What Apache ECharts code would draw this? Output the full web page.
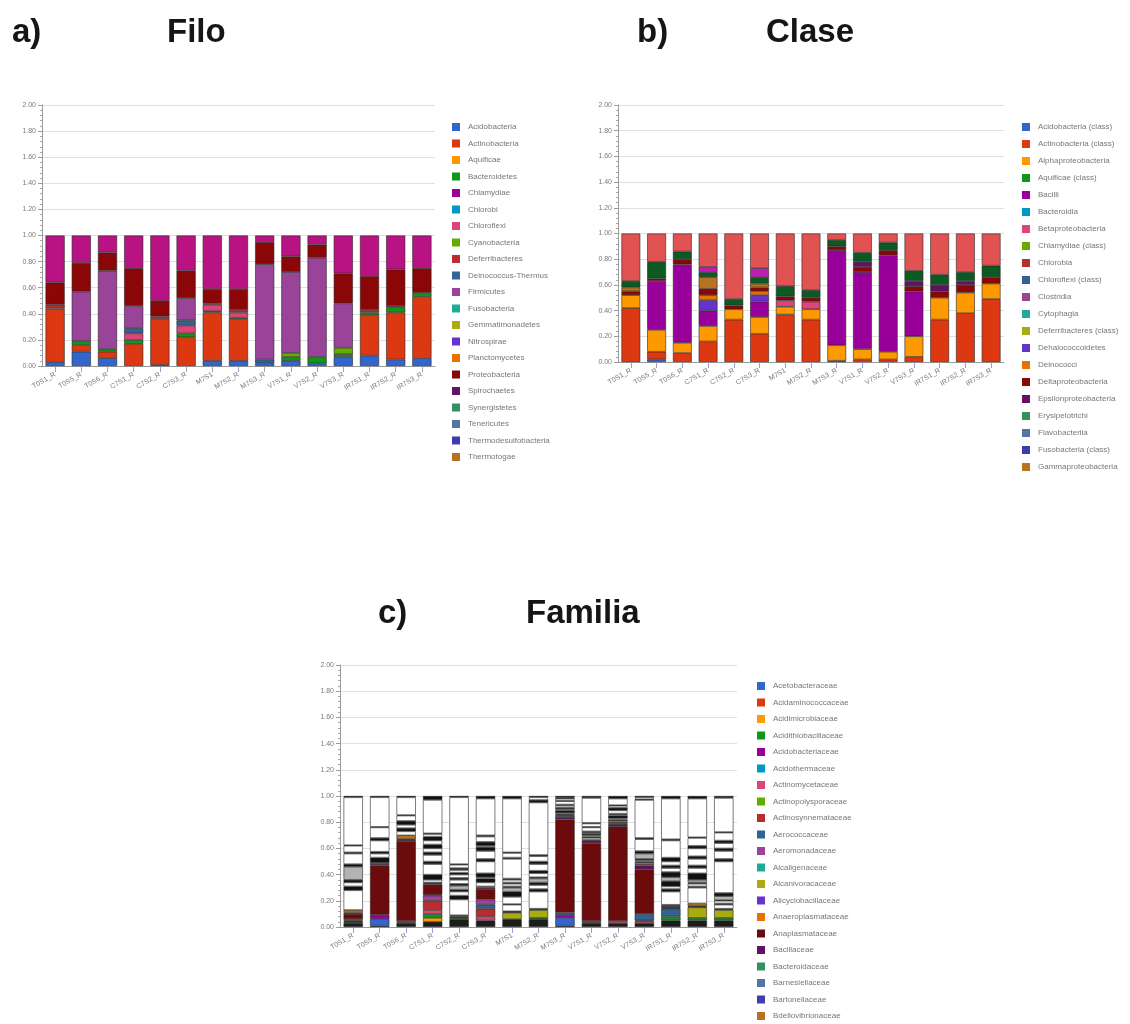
<!DOCTYPE html>
<html>
<head>
<meta charset="utf-8">
<script src="https://cdn.jsdelivr.net/npm/echarts@6/dist/echarts.min.js"></script>
<style>
  html, body { margin: 0; padding: 0; background: #ffffff; }
  #chart { width: 1130px; height: 1024px; }
</style>
</head>
<body>
<div id="chart"></div>
<script>
// ---------- samples ----------
const samples = ['T0S1_R', 'T0S5_R', 'T0S6_R', 'C7S1_R', 'C7S2_R', 'C7S3_R', 'M7S1', 'M7S2_R', 'M7S3_R',
                 'V7S1_R', 'V7S2_R', 'V7S3_R', 'IR7S1_R', 'IR7S2_R', 'IR7S3_R'];
const yTicks = [0, 0.2, 0.4, 0.6, 0.8, 1.0, 1.2, 1.4, 1.6, 1.8, 2.0];

const palette = ['#3366cc', '#dc3912', '#ff9900', '#109618', '#990099', '#0099c6', '#dd4477', '#66aa00',
                 '#b82e2e', '#316395', '#994499', '#22aa99', '#aaaa11', '#6633cc', '#e67300', '#8b0707',
                 '#651067', '#329262', '#5574a6', '#3b3eac', '#b77322'];

// ---------- a) Filo (relative abundance per sample) ----------
const phyla = ['Acidobacteria', 'Actinobacteria', 'Aquificae', 'Bacteroidetes', 'Chlamydiae', 'Chlorobi',
               'Chloroflexi', 'Cyanobacteria', 'Deferribacteres', 'Deinococcus-Thermus', 'Firmicutes',
               'Fusobacteria', 'Gemmatimonadetes', 'Nitrospirae', 'Planctomycetes', 'Proteobacteria',
               'Spirochaetes', 'Synergistetes', 'Tenericutes', 'Thermodesulfobacteria', 'Thermotogae'];
const acidobacteria      = [0.03, 0.11, 0.06, 0, 0.01, 0, 0.04, 0.04, 0.02, 0.04, 0.02, 0.07, 0.08, 0.05, 0.06];
const actinobacteria     = [0.41, 0.05, 0.05, 0.17, 0.35, 0.22, 0.37, 0.32, 0, 0, 0, 0, 0.31, 0.36, 0.47];
const bacteroidetes      = [0, 0.03, 0.02, 0.03, 0, 0.03, 0.01, 0.01, 0, 0.03, 0.05, 0.02, 0.02, 0.04, 0.03];
const chloroflexi        = [0, 0, 0, 0.05, 0, 0.06, 0.05, 0.04, 0, 0, 0, 0, 0, 0, 0];
const cyanobacteria      = [0, 0, 0, 0, 0, 0, 0, 0, 0, 0.03, 0, 0.05, 0, 0, 0];
const deferribacteres    = [0.03, 0, 0, 0, 0.02, 0, 0.01, 0.02, 0, 0, 0, 0, 0.02, 0.01, 0];
const deinococcusThermus = [0, 0, 0, 0.04, 0, 0.04, 0, 0, 0.03, 0, 0, 0, 0, 0, 0];
const firmicutes         = [0, 0.38, 0.60, 0.17, 0, 0.17, 0, 0, 0.73, 0.62, 0.76, 0.34, 0, 0, 0];
const proteobacteria     = [0.17, 0.22, 0.14, 0.29, 0.12, 0.21, 0.11, 0.16, 0.17, 0.12, 0.10, 0.23, 0.26, 0.28, 0.19];
const otherPhyla         = [0.36, 0.21, 0.13, 0.25, 0.50, 0.27, 0.41, 0.41, 0.05, 0.16, 0.07, 0.29, 0.31, 0.26, 0.25];

const phylumValues = {
  'Acidobacteria': acidobacteria, 'Actinobacteria': actinobacteria, 'Bacteroidetes': bacteroidetes,
  'Chloroflexi': chloroflexi, 'Cyanobacteria': cyanobacteria, 'Deferribacteres': deferribacteres,
  'Deinococcus-Thermus': deinococcusThermus, 'Firmicutes': firmicutes, 'Proteobacteria': proteobacteria
};

// ---------- b) Clase ----------
const classes = ['Acidobacteria (class)', 'Actinobacteria (class)', 'Alphaproteobacteria', 'Aquificae (class)',
                 'Bacilli', 'Bacteroidia', 'Betaproteobacteria', 'Chlamydiae (class)', 'Chlorobia',
                 'Chloroflexi (class)', 'Clostridia', 'Cytophagia', 'Deferribacteres (class)',
                 'Dehalococcoidetes', 'Deinococci', 'Deltaproteobacteria', 'Epsilonproteobacteria',
                 'Erysipelotrichi', 'Flavobacteriia', 'Fusobacteria (class)', 'Gammaproteobacteria'];
const acidobacteriaClass    = [0, 0.02, 0, 0, 0, 0, 0, 0, 0, 0, 0, 0, 0, 0, 0];
const actinobacteriaClass   = [0.42, 0.06, 0.07, 0.16, 0.33, 0.22, 0.37, 0.33, 0.01, 0.02, 0.02, 0.04, 0.33, 0.38, 0.49];
const alphaproteobacteria   = [0.10, 0.17, 0.08, 0.12, 0.08, 0.13, 0.06, 0.08, 0.12, 0.08, 0.06, 0.16, 0.17, 0.16, 0.12];
const bacilli               = [0, 0.38, 0.61, 0.12, 0, 0.12, 0, 0, 0.74, 0.60, 0.75, 0.35, 0, 0, 0];
const betaproteobacteria    = [0, 0, 0, 0, 0, 0, 0.05, 0.06, 0, 0, 0, 0, 0, 0, 0];
const dehalococcoidetes     = [0, 0, 0, 0.08, 0, 0.05, 0, 0, 0, 0, 0, 0, 0, 0, 0];
const deinococci            = [0, 0, 0, 0.04, 0, 0.03, 0, 0, 0, 0, 0, 0, 0, 0, 0];
const deltaproteobacteria   = [0.03, 0.02, 0.04, 0.05, 0.03, 0.03, 0.03, 0.03, 0.03, 0.04, 0.04, 0.04, 0.05, 0.06, 0.05];
const epsilonproteobacteria = [0, 0, 0, 0, 0, 0, 0, 0, 0, 0.04, 0, 0.04, 0.05, 0.03, 0];
const gammaproteobacteria   = [0.03, 0, 0, 0.09, 0, 0.03, 0, 0, 0, 0, 0, 0, 0, 0, 0];
const sphingobacteriia      = [0.05, 0.13, 0.06, 0.04, 0.05, 0.05, 0.08, 0.06, 0.05, 0.07, 0.06, 0.08, 0.08, 0.07, 0.09];
const verrucomicrobiae      = [0, 0, 0, 0.04, 0, 0.07, 0, 0, 0, 0, 0, 0, 0, 0, 0];
const otherClasses          = [0.37, 0.22, 0.14, 0.26, 0.51, 0.27, 0.41, 0.44, 0.05, 0.15, 0.07, 0.29, 0.32, 0.30, 0.25];

const classValues = {
  'Acidobacteria (class)': acidobacteriaClass, 'Actinobacteria (class)': actinobacteriaClass,
  'Alphaproteobacteria': alphaproteobacteria, 'Bacilli': bacilli, 'Betaproteobacteria': betaproteobacteria,
  'Dehalococcoidetes': dehalococcoidetes, 'Deinococci': deinococci, 'Deltaproteobacteria': deltaproteobacteria,
  'Epsilonproteobacteria': epsilonproteobacteria, 'Gammaproteobacteria': gammaproteobacteria
};

// ---------- c) Familia ----------
const families = ['Acetobacteraceae', 'Acidaminococcaceae', 'Acidimicrobiaceae', 'Acidithiobacillaceae',
                  'Acidobacteriaceae', 'Acidothermaceae', 'Actinomycetaceae', 'Actinopolysporaceae',
                  'Actinosynnemataceae', 'Aerococcaceae', 'Aeromonadaceae', 'Alcaligenaceae',
                  'Alcanivoracaceae', 'Alicyclobacillaceae', 'Anaeroplasmataceae', 'Anaplasmataceae',
                  'Bacillaceae', 'Bacteroidaceae', 'Barnesiellaceae', 'Bartonellaceae', 'Bdellovibrionaceae'];
// further families, stacked above the listed ones
const moreFamilies = ['Bradyrhizobiaceae', 'Burkholderiaceae', 'Caulobacteraceae', 'Chitinophagaceae',
                      'Comamonadaceae', 'Corynebacteriaceae', 'Cytophagaceae', 'Enterobacteriaceae',
                      'Flavobacteriaceae', 'Hyphomicrobiaceae', 'Intrasporangiaceae', 'Methylobacteriaceae',
                      'Microbacteriaceae', 'Micrococcaceae', 'Nocardioidaceae', 'Pseudomonadaceae'];
const moreFamilyColors = ['#ffffff', '#111111', '#ffffff', '#111111', '#b3b3b3', '#111111', '#ffffff', '#111111',
                          '#ffffff', '#111111', '#ffffff', '#111111', '#ffffff', '#111111', '#ffffff', '#111111'];

// per-sample profiles: [unassigned, 21 listed families, 16 further families]
const famT0S1 = [0.03, 0, 0.005, 0, 0.005, 0, 0, 0.005, 0, 0.005, 0, 0, 0, 0.01, 0, 0, 0.04, 0.01, 0, 0, 0, 0.02,
                 0.15, 0.03, 0.03, 0.02, 0.10, 0.02, 0.08, 0.01, 0.05, 0.005, 0, 0, 0, 0, 0.365, 0.01];
const famT0S5 = [0.01, 0.05, 0, 0, 0, 0.03, 0, 0.005, 0, 0, 0, 0, 0, 0, 0, 0, 0.375, 0.01, 0, 0, 0, 0.01,
                 0, 0.04, 0.03, 0.015, 0, 0, 0.085, 0.02, 0.08, 0.005, 0, 0, 0, 0, 0.225, 0.01];
const famT0S6 = [0.03, 0, 0.005, 0, 0, 0, 0, 0.01, 0, 0, 0, 0, 0, 0, 0, 0, 0.61, 0.01, 0.005, 0, 0, 0.03,
                 0.03, 0.025, 0.025, 0.03, 0, 0, 0.04, 0.005, 0, 0, 0, 0, 0, 0, 0.135, 0.01];
const famC7S1 = [0.04, 0, 0, 0.03, 0.03, 0, 0, 0.03, 0, 0.07, 0, 0.04, 0, 0.005, 0, 0, 0.08, 0.01, 0, 0, 0, 0.005,
                 0.02, 0.04, 0.08, 0.02, 0, 0, 0.05, 0.02, 0.03, 0.03, 0.03, 0.03, 0.02, 0.005, 0.255, 0.03];
const famC7S2 = [0.06, 0, 0, 0, 0.01, 0, 0, 0, 0, 0, 0, 0, 0, 0, 0, 0, 0.005, 0.005, 0, 0, 0, 0.01,
                 0.12, 0.03, 0.03, 0.015, 0.03, 0.015, 0.03, 0.015, 0.025, 0.015, 0.02, 0.015, 0.025, 0.005, 0.51, 0.01];
const famC7S3 = [0.05, 0, 0, 0, 0, 0, 0, 0.03, 0, 0.06, 0.03, 0.04, 0, 0, 0, 0, 0.08, 0.01, 0, 0, 0, 0.01,
                 0.03, 0.03, 0.01, 0.03, 0, 0, 0.09, 0.02, 0.06, 0.03, 0.01, 0.03, 0.04, 0.01, 0.28, 0.02];
const famM7S1 = [0.06, 0, 0, 0, 0, 0, 0, 0, 0, 0, 0, 0, 0, 0.05, 0, 0, 0.005, 0, 0, 0, 0, 0.005,
                 0.05, 0.005, 0.055, 0.04, 0.03, 0.01, 0.02, 0.01, 0.02, 0.01, 0.15, 0.01, 0.035, 0.005, 0.41, 0.02];
const famM7S2 = [0.06, 0, 0, 0, 0.01, 0, 0, 0, 0, 0, 0, 0, 0, 0.06, 0, 0, 0.005, 0, 0, 0, 0, 0.005,
                 0.13, 0.02, 0.03, 0.02, 0.03, 0.01, 0.03, 0.02, 0.05, 0.02, 0.04, 0.01, 0.40, 0.02, 0.02, 0.01];
const famM7S3 = [0.01, 0.06, 0, 0, 0, 0.02, 0, 0, 0, 0, 0.02, 0, 0, 0, 0, 0, 0.71, 0.02, 0.01, 0.005, 0, 0.005,
                 0.01, 0.02, 0.01, 0.01, 0.02, 0.005, 0.025, 0.005, 0.015, 0.005, 0.005, 0, 0, 0, 0, 0.01];
const famV7S1 = [0.03, 0, 0, 0, 0.005, 0, 0, 0.01, 0, 0, 0, 0, 0, 0, 0, 0, 0.595, 0.02, 0, 0, 0, 0.005,
                 0.015, 0.01, 0.01, 0.01, 0.01, 0.01, 0.03, 0.005, 0.025, 0.005, 0.19, 0, 0, 0, 0, 0.015];
const famV7S2 = [0.03, 0, 0, 0, 0, 0, 0, 0.015, 0, 0, 0, 0, 0, 0, 0, 0, 0.72, 0.02, 0.005, 0, 0, 0.01,
                 0.01, 0.01, 0.01, 0.02, 0.01, 0.005, 0.025, 0.02, 0.015, 0.005, 0.05, 0, 0, 0, 0, 0.02];
const famV7S3 = [0.03, 0, 0, 0, 0, 0, 0, 0.015, 0, 0.005, 0.05, 0, 0, 0, 0, 0, 0.34, 0.03, 0, 0, 0, 0.01,
                 0.01, 0.01, 0.01, 0.01, 0.04, 0.02, 0.09, 0.01, 0.29, 0.005, 0.015, 0, 0, 0, 0, 0.01];
const famIR7S1 = [0.05, 0, 0, 0, 0.03, 0, 0, 0, 0, 0, 0.06, 0, 0.005, 0.005, 0, 0, 0.005, 0, 0, 0, 0.01, 0.005,
                  0.10, 0.02, 0.02, 0.04, 0.03, 0.04, 0.03, 0.02, 0.03, 0.03, 0.13, 0.01, 0.31, 0, 0, 0.02];
const famIR7S2 = [0.05, 0, 0, 0, 0.02, 0, 0, 0, 0, 0, 0, 0, 0, 0.08, 0, 0, 0.005, 0.005, 0, 0, 0, 0.02,
                  0.12, 0.01, 0.02, 0.01, 0.02, 0.05, 0.04, 0.02, 0.05, 0.02, 0.06, 0.02, 0.06, 0.005, 0.295, 0.02];
const famIR7S3 = [0.05, 0, 0, 0, 0.02, 0, 0, 0, 0, 0, 0, 0, 0, 0.06, 0, 0, 0.005, 0, 0, 0, 0, 0.005,
                  0.03, 0.01, 0.02, 0.005, 0.03, 0.025, 0.24, 0.02, 0.06, 0.02, 0.04, 0.02, 0.06, 0.005, 0.26, 0.015];

const familyProfiles = [famT0S1, famT0S5, famT0S6, famC7S1, famC7S2, famC7S3, famM7S1, famM7S2, famM7S3,
                        famV7S1, famV7S2, famV7S3, famIR7S1, famIR7S2, famIR7S3];

// ---------- building blocks ----------
const FONT = 'Liberation Sans, Arial, sans-serif';

function stackBar(name, color, values, axis, stack) {
  return {
    type: 'bar', name: name, stack: stack,
    xAxisIndex: axis, yAxisIndex: axis,
    barCategoryGap: '27%',
    silent: true,
    itemStyle: { color: color, borderColor: '#262626', borderWidth: 0.6 },
    data: values.map(v => (v > 0 ? v : '-'))
  };
}

function yAxisFor(gi) {
  return {
    type: 'value', gridIndex: gi, min: yTicks[0], max: yTicks[yTicks.length - 1], interval: yTicks[1] - yTicks[0],
    axisLine: { show: true, lineStyle: { color: '#9a9a9a', width: 1 } },
    axisTick: { show: true, length: 4, lineStyle: { color: '#9a9a9a' } },
    minorTick: { show: true, splitNumber: 5, length: 2, lineStyle: { color: '#a8a8a8' } },
    axisLabel: { fontSize: 7, color: '#7a7a7a', margin: 6, fontFamily: FONT, formatter: v => v.toFixed(2) },
    splitLine: { show: true, lineStyle: { color: '#e0e0e0' } }
  };
}

function xAxisFor(gi) {
  return {
    type: 'category', gridIndex: gi, data: samples,
    axisLine: { show: true, lineStyle: { color: '#9a9a9a' } },
    axisTick: { show: true, alignWithLabel: true, length: 6, lineStyle: { color: '#9aa0c8' } },
    axisLabel: { fontSize: 7, color: '#7a7a7a', rotate: 30, interval: 0, margin: 8, fontFamily: FONT }
  };
}

function legendFor(names, left, top, gap) {
  return {
    data: names, orient: 'vertical', left: left, top: top, height: 400, padding: 0,
    itemWidth: 8, itemHeight: 8, itemGap: gap, icon: 'rect', selectedMode: false,
    itemStyle: { borderWidth: 0 },
    textStyle: { fontSize: 8, color: '#777777', fontFamily: FONT, padding: [0, 0, 0, 3] }
  };
}

function heading(text, left, top) {
  return { text: text, left: left, top: top, padding: 0,
           textStyle: { fontSize: 33, fontWeight: 'bold', color: '#151515', fontFamily: FONT } };
}

// ---------- series ----------
const series = [];

phyla.forEach((n, i) => series.push(stackBar(n, palette[i], phylumValues[n] || [], 0, 'filo')));
series.push(stackBar('Otros filos', '#b91383', otherPhyla, 0, 'filo'));

classes.forEach((n, i) => series.push(stackBar(n, palette[i], classValues[n] || [], 1, 'clase')));
series.push(stackBar('Sphingobacteriia', '#0c5922', sphingobacteriia, 1, 'clase'));
series.push(stackBar('Verrucomicrobiae', '#c21bb0', verrucomicrobiae, 1, 'clase'));
series.push(stackBar('Otras clases', '#e15252', otherClasses, 1, 'clase'));

const familyOrder = ['Sin asignar'].concat(families, moreFamilies);
const familyColors = ['#1c1c1c'].concat(palette.map((c, i) => (families[i] === 'Anaplasmataceae' ? '#6c0b0b' : c)),
                                        moreFamilyColors);
familyOrder.forEach((n, j) => {
  series.push(stackBar(n, familyColors[j], familyProfiles.map(p => p[j]), 2, 'familia'));
});

// ---------- chart ----------
const chart = echarts.init(document.getElementById('chart'), null, { renderer: 'canvas' });
chart.setOption({
  animation: false,
  backgroundColor: '#ffffff',
  title: [
    heading('a)', 12, 16), heading('Filo', 167, 16),
    heading('b)', 637, 16), heading('Clase', 766, 16),
    heading('c)', 378, 597), heading('Familia', 526, 597)
  ],
  grid: [
    { left: 42, top: 105, width: 393, height: 261 },
    { left: 618, top: 105, width: 386, height: 257 },
    { left: 340, top: 665, width: 397, height: 262 }
  ],
  xAxis: [xAxisFor(0), xAxisFor(1), xAxisFor(2)],
  yAxis: [yAxisFor(0), yAxisFor(1), yAxisFor(2)],
  legend: [
    legendFor(phyla, 452, 123, 8.5),
    legendFor(classes, 1022, 123, 9),
    legendFor(families, 757, 682, 8.5)
  ],
  series: series
});
</script>
</body>
</html>
